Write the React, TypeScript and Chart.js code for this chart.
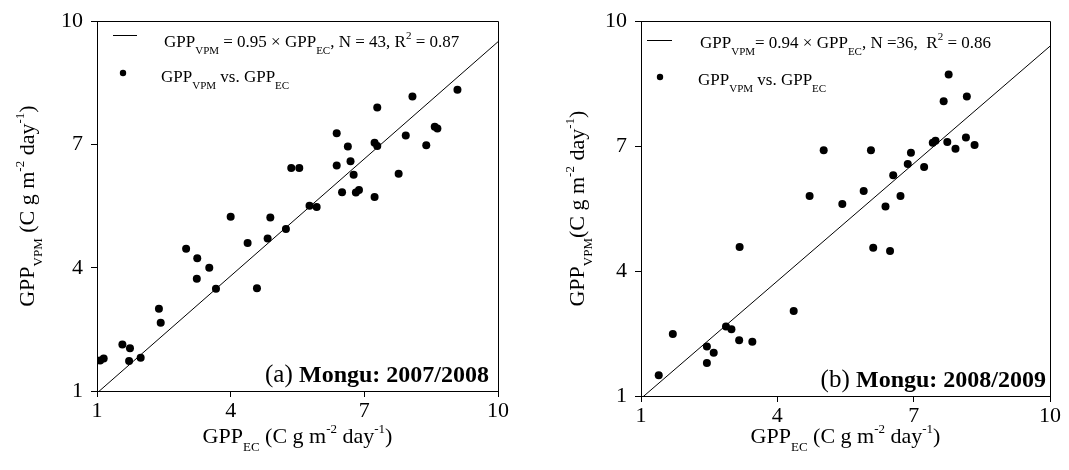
import React, { useEffect, useRef } from "react";
import { Chart, registerables } from "chart.js";

Chart.register(...registerables);

// ---- Data ----
const tickValues = [1, 4, 7, 10];

// Panel (a) Mongu 2007/2008
const ecA = [9.09, 8.08, 7.29, 6.38, 6.63, 7.23, 7.29, 7.93, 8.58, 8.64, 8.39, 6.69, 6.38, 5.36, 5.54, 6.76, 7.77, 6.5, 6.81, 6.88, 7.23, 5.77, 5.93, 4.0, 4.89, 5.24, 4.38, 4.83, 3.0, 3.25, 3.52, 3.24, 3.67, 4.59, 2.39, 2.43, 1.57, 1.74, 1.72, 1.98, 1.07, 1.15];
const vpmA = [8.33, 8.17, 7.9, 7.27, 6.95, 7.04, 6.96, 7.22, 7.43, 7.39, 6.98, 6.59, 6.49, 6.43, 6.43, 6.26, 6.29, 5.84, 5.83, 5.89, 5.72, 5.51, 5.48, 5.24, 5.22, 4.94, 4.6, 4.71, 4.46, 4.23, 4.0, 3.73, 3.49, 3.5, 3.0, 2.66, 2.13, 2.04, 1.73, 1.81, 1.74, 1.79];
const slopeA = 0.95;

// Panel (b) Mongu 2008/2009
const ecB = [7.77, 7.66, 8.17, 7.42, 7.48, 7.74, 7.92, 8.15, 8.34, 5.02, 6.06, 6.94, 6.87, 7.23, 6.55, 5.9, 6.71, 4.71, 5.43, 6.38, 3.17, 6.11, 6.48, 4.36, 2.87, 2.99, 1.7, 2.45, 2.6, 3.16, 3.45, 2.45, 1.39];
const vpmB = [8.72, 8.08, 8.19, 7.08, 7.13, 7.1, 6.94, 7.21, 7.03, 6.9, 6.9, 6.84, 6.57, 6.5, 6.3, 5.92, 5.8, 5.8, 5.61, 5.55, 4.58, 4.56, 4.48, 3.04, 2.67, 2.6, 2.49, 2.19, 2.04, 2.34, 2.3, 1.79, 1.5];
const slopeB = 0.94;

const fitX = [1, 10];

const FONT = '"Liberation Serif", "Times New Roman", Times, serif';

type Seg = { t: string; size: number; dy?: number; bold?: boolean };

function fontOf(s: Seg) {
  return `${s.bold ? "bold " : ""}${s.size}px ${FONT}`;
}

function drawRich(ctx: CanvasRenderingContext2D, x: number, y: number, segs: Seg[], align: "left" | "center" | "right") {
  let total = 0;
  for (const s of segs) {
    ctx.font = fontOf(s);
    total += ctx.measureText(s.t).width;
  }
  let cx = align === "center" ? x - total / 2 : align === "right" ? x - total : x;
  ctx.textAlign = "left";
  ctx.textBaseline = "alphabetic";
  ctx.fillStyle = "#000";
  for (const s of segs) {
    ctx.font = fontOf(s);
    ctx.fillText(s.t, cx, y + (s.dy || 0));
    cx += ctx.measureText(s.t).width;
  }
}

const M = (t: string, size: number): Seg => ({ t, size });
const SUB = (t: string, size: number): Seg => ({ t, size, dy: Math.round(size * 0.6) });
const SUP = (t: string, size: number): Seg => ({ t, size, dy: -Math.round(size * 0.75) });

type PanelCfg = {
  ec: number[];
  vpm: number[];
  slope: number;
  width: number;
  padRight: number;
  padTop: number;
  yAxisWidth: number;
  xAxisHeight: number;
  fitText: Seg[];
  yTitle: Seg[];
  yTitleX: number;
  xTitleY: number;
  legend: { lineX1: number; lineX2: number; lineY: number; text1X: number; text1Y: number; dotX: number; dotY: number; text2X: number; text2Y: number };
  panelLetter: string;
  panelName: string;
  panelRight: number;
  panelY: number;
};

const LS = 17; // legend font size
const LSS = 11; // legend sub size
const AS = 22; // axis title size
const ASS = 13;

const xTitleSegs: Seg[] = [M("GPP", AS), SUB("EC", ASS), M(" (C g m", AS), SUP("-2", ASS), M(" day", AS), SUP("-1", ASS), M(")", AS)];

const legend2Segs: Seg[] = [M("GPP", LS), SUB("VPM", LSS), M(" vs. ", LS), M("GPP", LS), SUB("EC", LSS)];

const panelA: PanelCfg = {
  ec: ecA,
  vpm: vpmA,
  slope: slopeA,
  width: 535,
  padRight: 37,
  padTop: 15,
  yAxisWidth: 97,
  xAxisHeight: 79,
  fitText: [M("GPP", LS), SUB("VPM", LSS), M(" = 0.95 × GPP", LS), SUB("EC", LSS), M(", N = 43, R", LS), SUP("2", LSS), M(" = 0.87", LS)],
  yTitle: [M("GPP", AS), SUB("VPM", ASS), M(" (C g m", AS), SUP("-2", ASS), M(" day", AS), SUP("-1", ASS), M(")", AS)],
  yTitleX: 34,
  xTitleY: 443,
  legend: { lineX1: 113, lineX2: 137, lineY: 35, text1X: 164, text1Y: 47, dotX: 123, dotY: 73, text2X: 161, text2Y: 82 },
  panelLetter: "(a) ",
  panelName: "Mongu: 2007/2008",
  panelRight: 489,
  panelY: 382,
};

const panelB: PanelCfg = {
  ec: ecB,
  vpm: vpmB,
  slope: slopeB,
  width: 534,
  padRight: 19,
  padTop: 17,
  yAxisWidth: 106,
  xAxisHeight: 74,
  fitText: [M("GPP", LS), SUB("VPM", LSS), M("= 0.94 × GPP", LS), SUB("EC", LSS), M(", N =36,  R", LS), SUP("2", LSS), M(" = 0.86", LS)],
  yTitle: [M("GPP", AS), SUB("VPM", ASS), M("(C g m", AS), SUP("-2", ASS), M(" day", AS), SUP("-1", ASS), M(")", AS)],
  yTitleX: 584 - 535,
  xTitleY: 443,
  legend: { lineX1: 647 - 535, lineX2: 672 - 535, lineY: 40, text1X: 700 - 535, text1Y: 48, dotX: 660 - 535, dotY: 77, text2X: 698 - 535, text2Y: 85 },
  panelLetter: "(b) ",
  panelName: "Mongu: 2008/2009",
  panelRight: 1046 - 535,
  panelY: 387,
};

function Panel({ cfg, left }: { cfg: PanelCfg; left: number }) {
  const ref = useRef<HTMLCanvasElement | null>(null);
  useEffect(() => {
    if (!ref.current) return;
    const points = cfg.ec.map((x, i) => ({ x, y: cfg.vpm[i] }));
    const fit = fitX.map((x) => ({ x, y: cfg.slope * x }));

    const decor = {
      id: "decor",
      afterDraw(chart: any) {
        const ctx: CanvasRenderingContext2D = chart.ctx;
        const a = chart.chartArea;
        ctx.save();
        // frame (top & right)
        ctx.strokeStyle = "#000";
        ctx.lineWidth = 1;
        ctx.beginPath();
        ctx.moveTo(Math.round(a.left), Math.round(a.top) + 0.5);
        ctx.lineTo(Math.round(a.right) + 0.5, Math.round(a.top) + 0.5);
        ctx.lineTo(Math.round(a.right) + 0.5, Math.round(a.bottom));
        ctx.stroke();
        // legend
        const L = cfg.legend;
        ctx.beginPath();
        ctx.moveTo(L.lineX1, L.lineY + 0.5);
        ctx.lineTo(L.lineX2, L.lineY + 0.5);
        ctx.stroke();
        drawRich(ctx, L.text1X, L.text1Y, cfg.fitText, "left");
        ctx.fillStyle = "#000";
        ctx.beginPath();
        ctx.arc(L.dotX, L.dotY, 3.2, 0, Math.PI * 2);
        ctx.fill();
        drawRich(ctx, L.text2X, L.text2Y, legend2Segs, "left");
        // panel label
        drawRich(ctx, cfg.panelRight, cfg.panelY, [{ t: cfg.panelLetter, size: 25 }, { t: cfg.panelName, size: 24, bold: true }], "right");
        // x title
        drawRich(ctx, (a.left + a.right) / 2, cfg.xTitleY, xTitleSegs, "center");
        // y title
        ctx.translate(cfg.yTitleX, (a.top + a.bottom) / 2);
        ctx.rotate(-Math.PI / 2);
        drawRich(ctx, 0, 0, cfg.yTitle, "center");
        ctx.restore();
      },
    };

    const axisCommon = {
      type: "linear" as const,
      min: 1,
      max: 10,
      afterBuildTicks: (scale: any) => {
        scale.ticks = tickValues.map((v) => ({ value: v }));
      },
      ticks: { color: "#000", font: { family: FONT, size: 22 }, maxRotation: 0, autoSkip: false },
      grid: { drawOnChartArea: false, drawTicks: true, tickLength: 6, color: "#000", lineWidth: 1 },
      border: { display: true, color: "#000", width: 1 },
    };

    const chart = new Chart(ref.current, {
      type: "scatter",
      data: {
        datasets: [
          {
            type: "line",
            data: fit,
            borderColor: "#000",
            borderWidth: 1,
            pointRadius: 0,
            fill: false,
          } as any,
          {
            type: "scatter",
            data: points,
            backgroundColor: "#000",
            borderColor: "#000",
            pointRadius: 4,
            borderWidth: 0,
          },
        ],
      },
      options: {
        animation: false,
        responsive: false,
        devicePixelRatio: 1,
        layout: { padding: { left: 0, right: cfg.padRight, top: cfg.padTop, bottom: 0 } },
        plugins: { legend: { display: false }, tooltip: { enabled: false } },
        scales: {
          x: {
            ...axisCommon,
            ticks: { ...axisCommon.ticks, padding: 1 },
            afterFit: (s: any) => {
              s.height = cfg.xAxisHeight;
            },
          } as any,
          y: {
            ...axisCommon,
            ticks: { ...axisCommon.ticks, padding: 8 },
            afterFit: (s: any) => {
              s.width = cfg.yAxisWidth;
            },
          } as any,
        },
      },
      plugins: [decor],
    });
    return () => chart.destroy();
  }, [cfg]);

  return (
    <canvas
      ref={ref}
      width={cfg.width}
      height={470}
      style={{ position: "absolute", left, top: 0, width: cfg.width, height: 470 }}
    />
  );
}

export default function App() {
  return (
    <div style={{ position: "absolute", left: 0, top: 0, width: 1069, height: 470, background: "#fff" }}>
      <Panel cfg={panelA} left={0} />
      <Panel cfg={panelB} left={535} />
    </div>
  );
}
